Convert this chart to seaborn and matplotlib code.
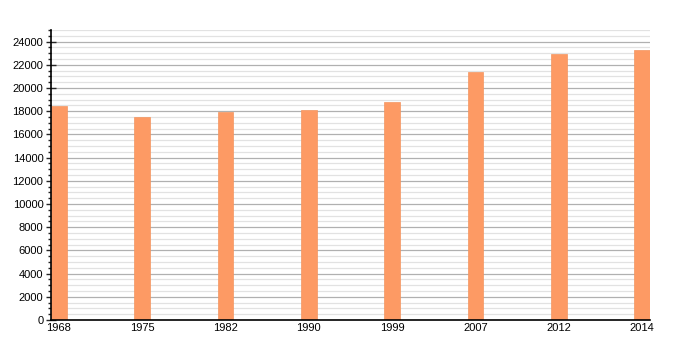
import matplotlib
matplotlib.use("Agg")
import matplotlib.pyplot as plt
import seaborn as sns
import pandas as pd
from matplotlib.ticker import MultipleLocator

years = ["1968", "1975", "1982", "1990", "1999", "2007", "2012", "2014"]
population = [18410, 17470, 17960, 18130, 18820, 21350, 22930, 23310]

df = pd.DataFrame({"year": years, "population": population})

sns.set_style("white")
plt.rcParams["font.family"] = ["Liberation Sans", "DejaVu Sans"]

fig = plt.figure(figsize=(7, 3.5), dpi=100)
ax = fig.add_axes([51/700, 1-320/350, (650-51)/700, (320-30)/350])

sns.barplot(data=df, x="year", y="population", color="#fd9a64", saturation=1,
            width=0.19, ax=ax, edgecolor="#f39560", linewidth=0.5)

ax.set_xlim(-0.095, 7.095)
ax.set_ylim(0, 25000)
ax.yaxis.set_minor_locator(MultipleLocator(500))
ax.set_yticks(range(0, 24001, 2000))
ax.grid(which="major", axis="y", color="#b0b0b0", linewidth=0.9)
ax.grid(which="minor", axis="y", color="#e2e2e2", linewidth=0.9)
ax.set_axisbelow(True)

for s in ["top", "right"]:
    ax.spines[s].set_visible(False)
for s in ["left", "bottom"]:
    ax.spines[s].set_color("black")
    ax.spines[s].set_linewidth(1.2)

ax.tick_params(axis="y", which="major", direction="inout", length=7, width=1,
               labelsize=8, pad=2, left=True, labelcolor="black")
ax.tick_params(axis="y", which="minor", direction="out", length=2.5, width=1, left=True)
ax.tick_params(axis="x", length=0, labelsize=8, pad=2, labelcolor="black")
ax.set_xlabel("")
ax.set_ylabel("")

fig.savefig("out.png", dpi=100)
